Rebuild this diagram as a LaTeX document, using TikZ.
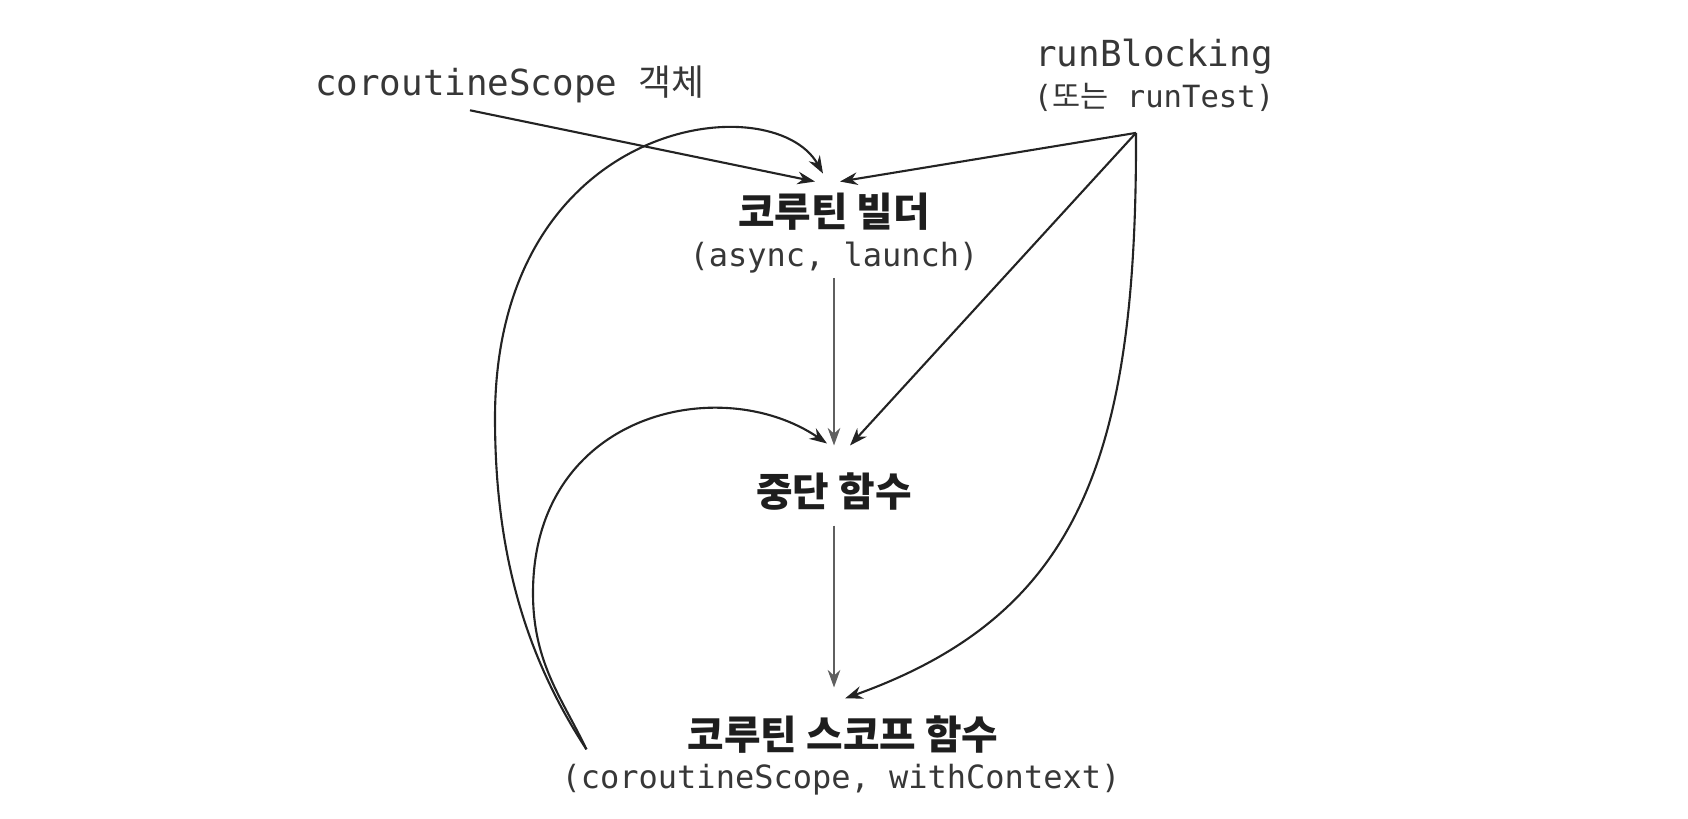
\documentclass[tikz,border=0pt]{standalone}
\usepackage{fontspec}
\usepackage{tikz}
\usetikzlibrary{arrows.meta,positioning,calc}
\newfontfamily\monofont{DejaVu Sans Mono}
\newfontfamily\krfont{Noto Sans CJK KR}
\definecolor{labeltext}{RGB}{55,55,55}
\definecolor{titletext}{RGB}{30,30,30}
\definecolor{edgeline}{RGB}{35,35,35}
\definecolor{flowline}{RGB}{95,95,95}

\tikzset{
  srclabel/.style={font=\monofont\fontsize{10.2}{12}\selectfont, text=labeltext, inner sep=2pt},
  srcsub/.style={font=\monofont\fontsize{8.7}{10}\selectfont, text=labeltext, inner sep=2pt},
  fntitle/.style={font=\krfont\bfseries\fontsize{11.3}{13}\selectfont, text=titletext, inner sep=2pt},
  fnsub/.style={font=\monofont\fontsize{9.1}{11}\selectfont, text=labeltext, inner sep=1pt},
  edge/.style={draw=edgeline, line width=0.6pt, -{Stealth[length=5pt,width=3.6pt]}},
  flow/.style={draw=flowline, line width=0.45pt, -{Stealth[length=5pt,width=3.6pt]}}
}

\begin{document}
\begin{tikzpicture}[x=0.01cm,y=0.01cm]
  \useasboundingbox (0,0) rectangle (1688,818);

  % Sources
  \node[srclabel] (scopeobj) at (510,734) {coroutineScope {\krfont 객체}};
  \node[srclabel] (runblk) at (1154,761) {runBlocking};
  \node[srcsub] (runblkex) at (1154,721) {({\krfont 또는} runTest)};
  \coordinate (rbfork) at ($(runblkex.south)+(-18,-14)$);

  % Coroutine builder
  \node[fntitle] (builder) at (834,606) {코루틴 빌더};
  \node[fnsub] (builderex) at (834,560) {(async, launch)};

  % Suspend function
  \node[fntitle] (suspendfn) at (834,326) {중단 함수};

  % Coroutine scope function
  \node[fntitle] (scopefn) at (843,83) {코루틴 스코프 함수};
  \node[fnsub] (scopefnex) at (841,38) {(coroutineScope, withContext)};
  \coordinate (scopeout) at ($(scopefnex.north west)+(29,11)$);

  % Straight connectors
  \draw[edge] ([xshift=-0.4cm]scopeobj.south) -- ([xshift=-0.19cm,yshift=0.04cm]builder.north);
  \draw[edge] (rbfork) -- ([xshift=0.06cm,yshift=0.04cm]builder.north);
  \draw[edge] (rbfork) -- ([xshift=0.16cm,yshift=0.2cm]suspendfn.north);
  \draw[flow] (builderex.south) -- ([yshift=0.2cm]suspendfn.north);
  \draw[flow] ([yshift=-0.07cm]suspendfn.south) -- ([yshift=0.21cm]suspendfn.south |- scopefn.north);

  % Curved connectors
  \draw[edge] (rbfork) .. controls (1137,358) and (1078,203) .. ([xshift=0.02cm,yshift=0.1cm]scopefn.north);
  \draw[edge] (scopeout) .. controls (528,158) and (495,260) .. (495,400)
    .. controls (495,700) and (772,734) .. ([xshift=-0.11cm,yshift=0.12cm]builder.north);
  \draw[edge] (scopeout) .. controls (562,120) and (533,155) .. (533,225)
    .. controls (533,405) and (720,447) .. ([xshift=-0.07cm,yshift=0.22cm]suspendfn.north);
\end{tikzpicture}
\end{document}
